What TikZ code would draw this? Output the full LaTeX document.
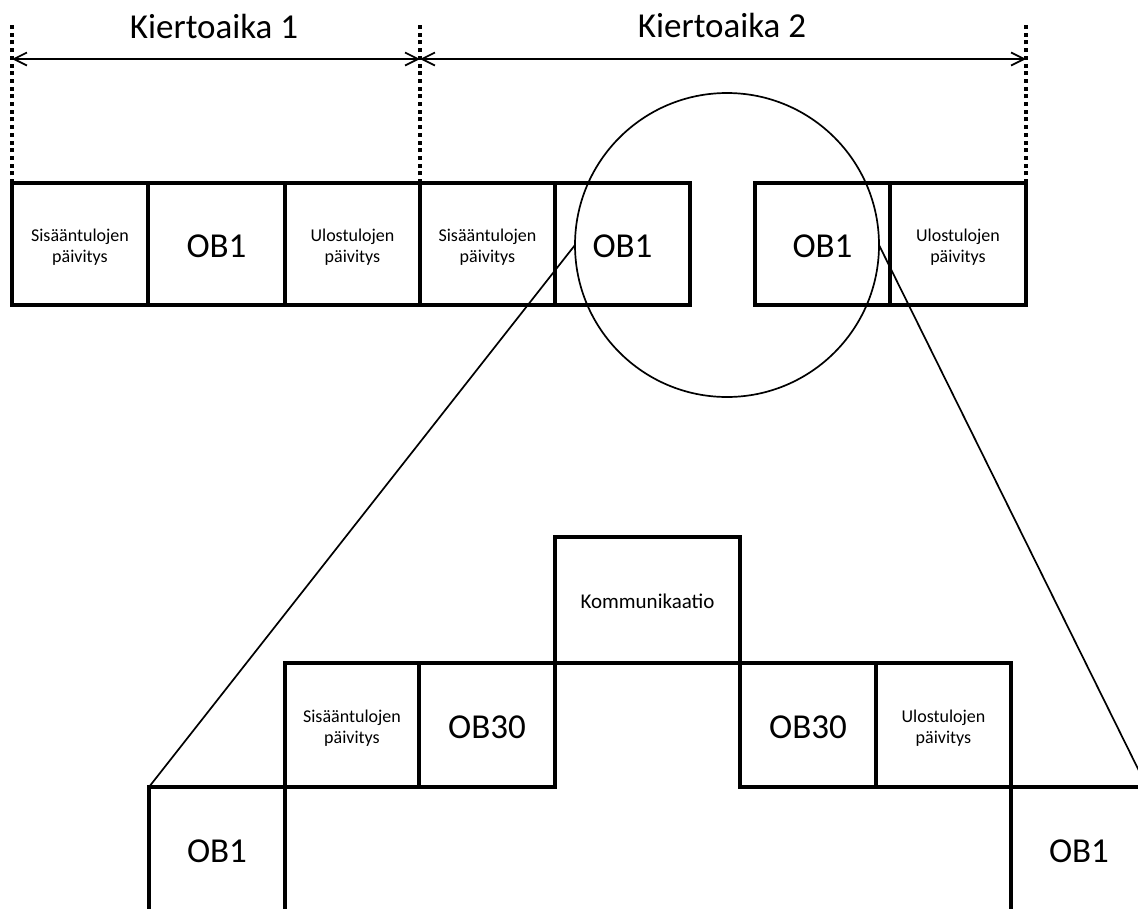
\documentclass[tikz,border=0pt]{standalone}
\usepackage{fontspec}
\setmainfont{Carlito}
\usetikzlibrary{arrows.meta}
\begin{document}
\begin{tikzpicture}[x=1pt,y=-1pt,
  box/.style={draw, line width=4pt, minimum width=#1, inner sep=0pt,
              outer sep=0pt, anchor=north west},
  top/.style={minimum height=122pt},
  low/.style={minimum height=124pt},
  bigtxt/.style={font=\fontsize{35}{42}\selectfont, inner sep=0pt},
  smalltxt/.style={font=\fontsize{18}{21}\selectfont, align=center, inner sep=0pt},
  midtxt/.style={font=\fontsize{21}{25}\selectfont, inner sep=0pt},
  thinline/.style={line width=1.7pt},
  dotline/.style={line width=3.6pt, dash pattern=on 4pt off 3.7pt},
  span/.style={thinline, {Straight Barb[length=13pt,width=13pt]}-{Straight Barb[length=13pt,width=13pt]}}
]
\useasboundingbox (0,0) rectangle (1138,908);
\clip (0,0) rectangle (1138,908);
\fill[white] (0,0) rectangle (1138,908);

% scan cycle timeline
\node[box=136pt, top] (in1)  at (12,183)  {};
\node[box=137pt, top] (ob1a) at (148,183) {};
\node[box=135pt, top] (out1) at (285,183) {};
\node[box=135pt, top] (in2)  at (420,183) {};
\node[box=135pt, top] (ob1b) at (555,183) {};
\node[box=135pt, top] (ob1c) at (755,183) {};
\node[box=136pt, top] (out2) at (890,183) {};
\path (in1.center)  ++(0,3) node[smalltxt] (in1t)  {Sisääntulojen\\päivitys};
\path (ob1a.center) ++(0,2) node[bigtxt]   (ob1at) {OB1};
\path (out1.center) ++(0,3) node[smalltxt] (out1t) {Ulostulojen\\päivitys};
\path (in2.center)  ++(0,3) node[smalltxt] (in2t)  {Sisääntulojen\\päivitys};
\path (ob1b.center) ++(0,2) node[bigtxt]   (ob1bt) {OB1};
\path (ob1c.center) ++(0,2) node[bigtxt]   (ob1ct) {OB1};
\path (out2.center) ++(0,3) node[smalltxt] (out2t) {Ulostulojen\\päivitys};

% cycle boundaries and cycle-time spans
\coordinate (t1) at (12,25);
\coordinate (t2) at (420,25);
\coordinate (t3) at (1026,25);
\draw[dotline] (in1.north west) -- (t1);
\draw[dotline] (in2.north west) -- (t2);
\draw[dotline] (out2.north east) -- (t3);
\coordinate (a1) at (12,59);
\coordinate (a2) at (420,59);
\coordinate (a3) at (1026,59);
\draw[span] (a1) -- (a2);
\draw[span] (a2) -- (a3);
\node[bigtxt, anchor=base] (k1) at (214,38) {Kiertoaika 1};
\node[bigtxt, anchor=base] (k2) at (722,37) {Kiertoaika 2};

% magnified part of the cycle
\node[draw, circle, thinline, minimum size=304pt, inner sep=0pt, outer sep=0pt] (lens) at (727,245) {};

\node[box=136pt, low] (ob1l)  at (149,787)  {};
\node[box=134pt, low] (in3)   at (285,663)  {};
\node[box=136pt, low] (ob30a) at (419,663)  {};
\node[box=185pt, minimum height=126pt] (comm) at (555,537) {};
\node[box=136pt, low] (ob30b) at (740,663)  {};
\node[box=135pt, low] (out3)  at (876,663)  {};
\node[box=136pt, low] (ob1r)  at (1011,787) {};
\path (ob1l.center)  ++(0,2) node[bigtxt]   (ob1lt)  {OB1};
\path (in3.center)   ++(0,3) node[smalltxt] (in3t)   {Sisääntulojen\\päivitys};
\path (ob30a.center) ++(0,2) node[bigtxt]   (ob30at) {OB30};
\path (comm.center)  ++(0,1) node[midtxt]   (commt)  {Kommunikaatio};
\path (ob30b.center) ++(0,2) node[bigtxt]   (ob30bt) {OB30};
\path (out3.center)  ++(0,3) node[smalltxt] (out3t)  {Ulostulojen\\päivitys};
\path (ob1r.center)  ++(0,2) node[bigtxt]   (ob1rt)  {OB1};

\draw[thinline] (lens.west) -- (ob1l.north west);
\draw[thinline] (lens.east) -- (ob1r.north east);
\end{tikzpicture}
\end{document}
